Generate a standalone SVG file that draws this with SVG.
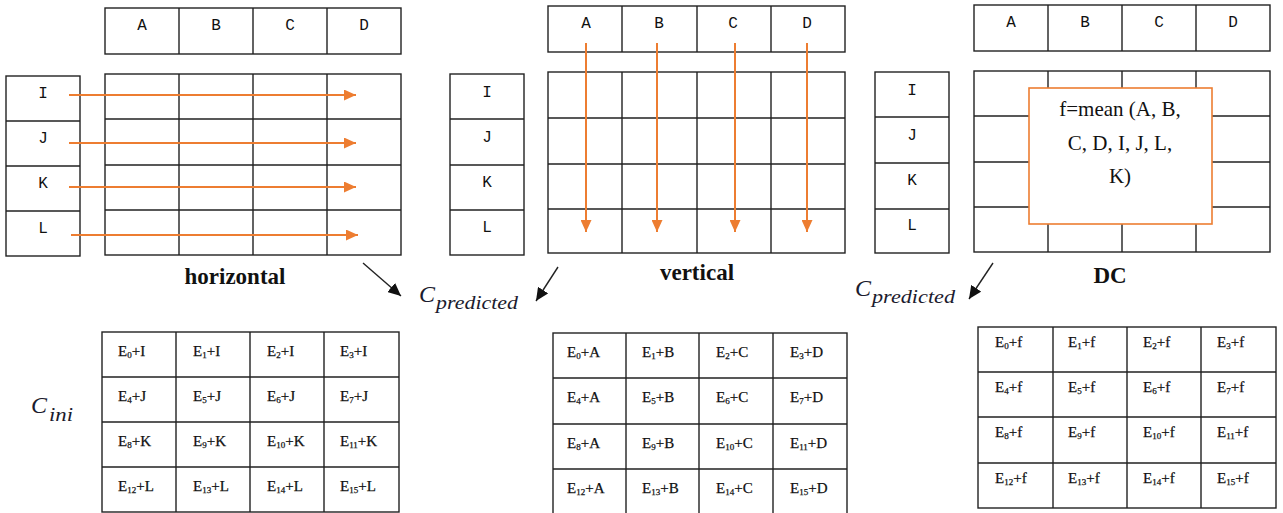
<svg xmlns="http://www.w3.org/2000/svg" width="1283" height="513" viewBox="0 0 1283 513">
<style>
.g{fill:#fff;stroke:#222;stroke-width:1.4}
.ln{stroke:#222;stroke-width:1.4;fill:none}
.lt{font-family:"Liberation Mono",monospace;font-size:16px;fill:#111;text-anchor:middle}
.e{font-family:"Liberation Serif",serif;font-size:15px;fill:#111;stroke:#111;stroke-width:0.25}
.s{font-size:9px}
.ttl{font-family:"Liberation Serif",serif;font-size:23px;font-weight:bold;fill:#111;text-anchor:middle}
.cp{font-family:"Liberation Serif",serif;font-style:italic;fill:#1b1b2e}
.or{stroke:#ED7D31;stroke-width:2;fill:none}
.bk{stroke:#222;stroke-width:1.4;fill:none}
.mt{font-family:"Liberation Serif",serif;font-size:21px;fill:#111;text-anchor:middle}
</style>
<defs>
<marker id="ao" markerUnits="userSpaceOnUse" markerWidth="13" markerHeight="11" refX="12" refY="5.5" orient="auto"><path d="M0,0 L12,5.5 L0,11 z" fill="#ED7D31"/></marker>
<marker id="ab" markerUnits="userSpaceOnUse" markerWidth="14" markerHeight="12" refX="13" refY="6" orient="auto"><path d="M0,0 L13,6 L0,12 z" fill="#111"/></marker>
</defs>

<!-- Section 1: horizontal -->
<g id="h-header">
<rect class="g" x="105" y="8" width="296" height="46"/>
<path class="ln" d="M179,8V54M253,8V54M327,8V54"/>
<text class="lt" x="142" y="30">A</text><text class="lt" x="216" y="30">B</text><text class="lt" x="290" y="30">C</text><text class="lt" x="364" y="30">D</text>
</g>
<g id="h-left">
<rect class="g" x="6" y="76" width="74" height="180"/>
<path class="ln" d="M6,121H80M6,166H80M6,211H80"/>
<text class="lt" x="43" y="98">I</text><text class="lt" x="43" y="143">J</text><text class="lt" x="43" y="188">K</text><text class="lt" x="43" y="233">L</text>
</g>
<g id="h-grid">
<rect class="g" x="105" y="74" width="296" height="181"/>
<path class="ln" d="M179,74V255M253,74V255M327,74V255M105,119H401M105,165H401M105,210H401"/>
</g>
<text id="h-label" class="ttl" x="235" y="284">horizontal</text>

<!-- Section 2: vertical -->
<g id="v-header">
<rect class="g" x="548" y="6" width="297" height="46"/>
<path class="ln" d="M622,6V52M697,6V52M771,6V52"/>
<text class="lt" x="586" y="28">A</text><text class="lt" x="659" y="28">B</text><text class="lt" x="733" y="28">C</text><text class="lt" x="807" y="28">D</text>
</g>
<g id="v-left">
<rect class="g" x="450" y="74" width="74" height="181"/>
<path class="ln" d="M450,119H524M450,165H524M450,210H524"/>
<text class="lt" x="487" y="97">I</text><text class="lt" x="487" y="142">J</text><text class="lt" x="487" y="187">K</text><text class="lt" x="487" y="232">L</text>
</g>
<g id="v-grid">
<rect class="g" x="548" y="72" width="297" height="181"/>
<path class="ln" d="M622,72V253M697,72V253M771,72V253M548,118H845M548,164H845M548,209H845"/>
</g>
<text id="v-label" class="ttl" x="697" y="280">vertical</text>

<!-- Section 3: DC -->
<g id="d-header">
<rect class="g" x="974" y="5" width="296" height="46"/>
<path class="ln" d="M1048,5V51M1122,5V51M1196,5V51"/>
<text class="lt" x="1011" y="27">A</text><text class="lt" x="1085" y="27">B</text><text class="lt" x="1159" y="27">C</text><text class="lt" x="1233" y="27">D</text>
</g>
<g id="d-left">
<rect class="g" x="875" y="72" width="74" height="181"/>
<path class="ln" d="M875,117H949M875,163H949M875,209H949"/>
<text class="lt" x="912" y="95">I</text><text class="lt" x="912" y="140">J</text><text class="lt" x="912" y="185">K</text><text class="lt" x="912" y="230">L</text>
</g>
<g id="d-grid">
<rect class="g" x="974" y="71" width="296" height="181"/>
<path class="ln" d="M1048,71V252M1122,71V252M1196,71V252M974,116H1270M974,162H1270M974,207H1270"/>
</g>
<g id="d-mean">
<rect x="1029" y="88" width="183" height="136" fill="#fff" stroke="#ED7D31" stroke-width="1.6"/>
<text class="mt" x="1120" y="116">f=mean (A, B,</text>
<text class="mt" x="1120" y="150">C, D, I, J, L,</text>
<text class="mt" x="1120" y="183">K)</text>
</g>
<text id="d-label" class="ttl" x="1110" y="283">DC</text>

<!-- Labels -->
<g id="cpred1"><text class="cp" x="419" y="302" font-size="24">C</text><text class="cp" x="436" y="309" font-size="18" textLength="82" lengthAdjust="spacingAndGlyphs">predicted</text></g>
<g id="cpred2"><text class="cp" x="855" y="296" font-size="24">C</text><text class="cp" x="872" y="303" font-size="18" textLength="83" lengthAdjust="spacingAndGlyphs">predicted</text></g>
<g id="cini"><text class="cp" x="31" y="413" font-size="24">C</text><text class="cp" x="49" y="421" font-size="19" textLength="24" lengthAdjust="spacingAndGlyphs">ini</text></g>

<!-- Bottom table 1 -->
<g id="t-horizontal">
<rect class="g" x="102" y="332" width="297" height="180"/>
<path class="ln" d="M176,332V512M250,332V512M324,332V512M102,377H399M102,422H399M102,467H399"/>
<g class="e">
<text x="118" y="356">E<tspan class="s" dy="2">0</tspan><tspan dy="-2">+I</tspan></text>
<text x="193" y="356">E<tspan class="s" dy="2">1</tspan><tspan dy="-2">+I</tspan></text>
<text x="267" y="356">E<tspan class="s" dy="2">2</tspan><tspan dy="-2">+I</tspan></text>
<text x="340" y="356">E<tspan class="s" dy="2">3</tspan><tspan dy="-2">+I</tspan></text>
<text x="118" y="401">E<tspan class="s" dy="2">4</tspan><tspan dy="-2">+J</tspan></text>
<text x="193" y="401">E<tspan class="s" dy="2">5</tspan><tspan dy="-2">+J</tspan></text>
<text x="267" y="401">E<tspan class="s" dy="2">6</tspan><tspan dy="-2">+J</tspan></text>
<text x="340" y="401">E<tspan class="s" dy="2">7</tspan><tspan dy="-2">+J</tspan></text>
<text x="118" y="446">E<tspan class="s" dy="2">8</tspan><tspan dy="-2">+K</tspan></text>
<text x="193" y="446">E<tspan class="s" dy="2">9</tspan><tspan dy="-2">+K</tspan></text>
<text x="267" y="446">E<tspan class="s" dy="2">10</tspan><tspan dy="-2">+K</tspan></text>
<text x="340" y="446">E<tspan class="s" dy="2">11</tspan><tspan dy="-2">+K</tspan></text>
<text x="118" y="491">E<tspan class="s" dy="2">12</tspan><tspan dy="-2">+L</tspan></text>
<text x="193" y="491">E<tspan class="s" dy="2">13</tspan><tspan dy="-2">+L</tspan></text>
<text x="267" y="491">E<tspan class="s" dy="2">14</tspan><tspan dy="-2">+L</tspan></text>
<text x="340" y="491">E<tspan class="s" dy="2">15</tspan><tspan dy="-2">+L</tspan></text>
</g>
</g>

<!-- Bottom table 2 -->
<g id="t-vertical">
<rect class="g" x="553" y="333" width="294" height="181"/>
<path class="ln" d="M626,333V514M699,333V514M773,333V514M553,378H847M553,424H847M553,469H847"/>
<g class="e">
<text x="567" y="357">E<tspan class="s" dy="2">0</tspan><tspan dy="-2">+A</tspan></text>
<text x="642" y="357">E<tspan class="s" dy="2">1</tspan><tspan dy="-2">+B</tspan></text>
<text x="716" y="357">E<tspan class="s" dy="2">2</tspan><tspan dy="-2">+C</tspan></text>
<text x="790" y="357">E<tspan class="s" dy="2">3</tspan><tspan dy="-2">+D</tspan></text>
<text x="567" y="402">E<tspan class="s" dy="2">4</tspan><tspan dy="-2">+A</tspan></text>
<text x="642" y="402">E<tspan class="s" dy="2">5</tspan><tspan dy="-2">+B</tspan></text>
<text x="716" y="402">E<tspan class="s" dy="2">6</tspan><tspan dy="-2">+C</tspan></text>
<text x="790" y="402">E<tspan class="s" dy="2">7</tspan><tspan dy="-2">+D</tspan></text>
<text x="567" y="448">E<tspan class="s" dy="2">8</tspan><tspan dy="-2">+A</tspan></text>
<text x="642" y="448">E<tspan class="s" dy="2">9</tspan><tspan dy="-2">+B</tspan></text>
<text x="716" y="448">E<tspan class="s" dy="2">10</tspan><tspan dy="-2">+C</tspan></text>
<text x="790" y="448">E<tspan class="s" dy="2">11</tspan><tspan dy="-2">+D</tspan></text>
<text x="567" y="493">E<tspan class="s" dy="2">12</tspan><tspan dy="-2">+A</tspan></text>
<text x="642" y="493">E<tspan class="s" dy="2">13</tspan><tspan dy="-2">+B</tspan></text>
<text x="716" y="493">E<tspan class="s" dy="2">14</tspan><tspan dy="-2">+C</tspan></text>
<text x="790" y="493">E<tspan class="s" dy="2">15</tspan><tspan dy="-2">+D</tspan></text>
</g>
</g>

<!-- Bottom table 3 -->
<g id="t-dc">
<rect class="g" x="978" y="327" width="298" height="181"/>
<path class="ln" d="M1053,327V508M1127,327V508M1201,327V508M978,372H1276M978,417H1276M978,463H1276"/>
<g class="e">
<text x="995" y="347">E<tspan class="s" dy="2">0</tspan><tspan dy="-2">+f</tspan></text>
<text x="1068" y="347">E<tspan class="s" dy="2">1</tspan><tspan dy="-2">+f</tspan></text>
<text x="1143" y="347">E<tspan class="s" dy="2">2</tspan><tspan dy="-2">+f</tspan></text>
<text x="1217" y="347">E<tspan class="s" dy="2">3</tspan><tspan dy="-2">+f</tspan></text>
<text x="995" y="392">E<tspan class="s" dy="2">4</tspan><tspan dy="-2">+f</tspan></text>
<text x="1068" y="392">E<tspan class="s" dy="2">5</tspan><tspan dy="-2">+f</tspan></text>
<text x="1143" y="392">E<tspan class="s" dy="2">6</tspan><tspan dy="-2">+f</tspan></text>
<text x="1217" y="392">E<tspan class="s" dy="2">7</tspan><tspan dy="-2">+f</tspan></text>
<text x="995" y="437">E<tspan class="s" dy="2">8</tspan><tspan dy="-2">+f</tspan></text>
<text x="1068" y="437">E<tspan class="s" dy="2">9</tspan><tspan dy="-2">+f</tspan></text>
<text x="1143" y="437">E<tspan class="s" dy="2">10</tspan><tspan dy="-2">+f</tspan></text>
<text x="1217" y="437">E<tspan class="s" dy="2">11</tspan><tspan dy="-2">+f</tspan></text>
<text x="995" y="483">E<tspan class="s" dy="2">12</tspan><tspan dy="-2">+f</tspan></text>
<text x="1068" y="483">E<tspan class="s" dy="2">13</tspan><tspan dy="-2">+f</tspan></text>
<text x="1143" y="483">E<tspan class="s" dy="2">14</tspan><tspan dy="-2">+f</tspan></text>
<text x="1217" y="483">E<tspan class="s" dy="2">15</tspan><tspan dy="-2">+f</tspan></text>
</g>
</g>

<!-- Connectors -->
<g id="connectors">
<path class="or" marker-end="url(#ao)" d="M69,95H356"/>
<path class="or" marker-end="url(#ao)" d="M69,143H356"/>
<path class="or" marker-end="url(#ao)" d="M69,187H356"/>
<path class="or" marker-end="url(#ao)" d="M71,235H358"/>
<path class="or" marker-end="url(#ao)" d="M586,43V232"/>
<path class="or" marker-end="url(#ao)" d="M657,43V232"/>
<path class="or" marker-end="url(#ao)" d="M735,43V232"/>
<path class="or" marker-end="url(#ao)" d="M807,43V232"/>
<path class="bk" marker-end="url(#ab)" d="M363,263L401,296"/>
<path class="bk" marker-end="url(#ab)" d="M558,267L536,301"/>
<path class="bk" marker-end="url(#ab)" d="M993,263L969,299"/>
</g>
</svg>
